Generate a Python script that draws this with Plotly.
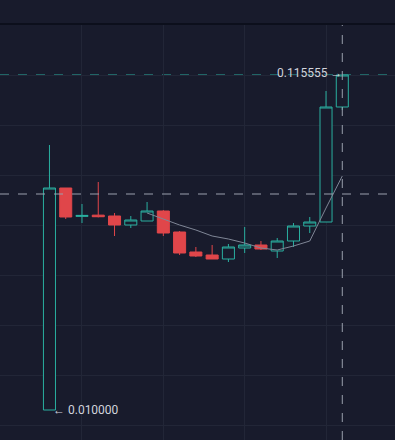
import plotly.graph_objects as go

# ---- data ----
idx = list(range(19))
opens = [0.010000, 0.079950, 0.071000, 0.071400, 0.071127, 0.068291, 0.069552, 0.072703, 0.066086, 0.059784,
         0.058839, 0.057578, 0.061044, 0.061990, 0.060099, 0.063250, 0.067976, 0.069237, 0.105472]
highs = [0.093499, 0.079950, 0.074908, 0.081840, 0.072073, 0.071127, 0.075539, 0.073000, 0.066401, 0.061360,
         0.061990, 0.062305, 0.067661, 0.063250, 0.064195, 0.068922, 0.070812, 0.110514, 0.115555]
lows = [0.010000, 0.070182, 0.068922, 0.070700, 0.064826, 0.067346, 0.069552, 0.064826, 0.058839, 0.058209,
        0.057578, 0.056633, 0.059469, 0.060414, 0.057894, 0.061360, 0.065771, 0.069237, 0.104527]
closes = [0.079950, 0.070812, 0.071300, 0.070900, 0.068291, 0.069867, 0.072703, 0.065771, 0.059469, 0.058524,
          0.057578, 0.061360, 0.061990, 0.060729, 0.063250, 0.067976, 0.069237, 0.105472, 0.115555]
ma_idx = list(range(6, 19))
ma_vals = [0.072073, 0.070182, 0.068291, 0.066716, 0.064826, 0.063880, 0.062620, 0.061044, 0.060414,
           0.061675, 0.063250, 0.073648, 0.083731]
cursor_price = 0.078059
high_label = "0.115555"
low_label = "0.010000"

# ---- style ----
BG = "#181b2c"
GRID = "#222637"
UP = "#2ab0a0"
DOWN = "#e0464a"
TEXT = "#d1d4dc"

px_per_val = 1 / 0.00031509  # pixels per price unit
y_top = max(highs) + 51 / px_per_val
y_bot = min(lows) - 30 / px_per_val

fig = go.Figure()
fig.add_trace(go.Candlestick(
    x=idx, open=opens, high=highs, low=lows, close=closes,
    increasing=dict(line=dict(color=UP, width=1), fillcolor=BG),
    decreasing=dict(line=dict(color=DOWN, width=1), fillcolor=DOWN),
    whiskerwidth=0, hoverinfo="skip", showlegend=False,
))
fig.add_trace(go.Scatter(
    x=ma_idx, y=ma_vals, mode="lines",
    line=dict(color="#7f8696", width=1), hoverinfo="skip", showlegend=False,
))

last = idx[-1]
# price line at last close
fig.add_shape(type="line", xref="paper", x0=0, x1=1, yref="y", y0=closes[-1], y1=closes[-1],
              line=dict(color=UP, width=1, dash="dash"), layer="below")
# crosshair
fig.add_shape(type="line", xref="paper", x0=0, x1=1, yref="y", y0=cursor_price, y1=cursor_price,
              line=dict(color="#9aa0ad", width=1, dash="dash"))
fig.add_shape(type="line", xref="x", x0=last, x1=last, yref="paper", y0=0, y1=1,
              line=dict(color="#9aa0ad", width=1, dash="dash"))
# top separator
fig.add_shape(type="line", xref="paper", x0=0, x1=1, yref="paper", y0=1, y1=1,
              line=dict(color="#0c0f1c", width=2))

fig.add_annotation(x=last, y=max(highs), xref="x", yref="y", text=high_label + " →",
                   showarrow=False, xanchor="right", yanchor="middle", xshift=2, yshift=2,
                   font=dict(family="Roboto", size=12, color=TEXT))
fig.add_annotation(x=idx[0], y=min(lows), xref="x", yref="y", text="← " + low_label,
                   showarrow=False, xanchor="left", yanchor="middle", xshift=2, yshift=0,
                   font=dict(family="Roboto", size=12, color=TEXT))

fig.update_layout(
    width=395, height=440,
    margin=dict(l=0, r=0, t=24, b=0),
    paper_bgcolor=BG, plot_bgcolor=BG,
    boxgap=0.26, boxgroupgap=0,
    xaxis=dict(range=[-3.04, 21.24], showticklabels=False, tick0=2, dtick=5,
               showgrid=True, gridcolor=GRID, gridwidth=1, zeroline=False,
               rangeslider=dict(visible=False), fixedrange=True),
    yaxis=dict(range=[y_bot, y_top], showticklabels=False, tick0=max(highs), dtick=50 / px_per_val,
               showgrid=True, gridcolor=GRID, gridwidth=1, zeroline=False, fixedrange=True),
    showlegend=False,
)

fig.write_html("out.html", config={"displayModeBar": False},
               post_script="document.body.style.margin='0';document.body.style.background='" + BG + "';")
